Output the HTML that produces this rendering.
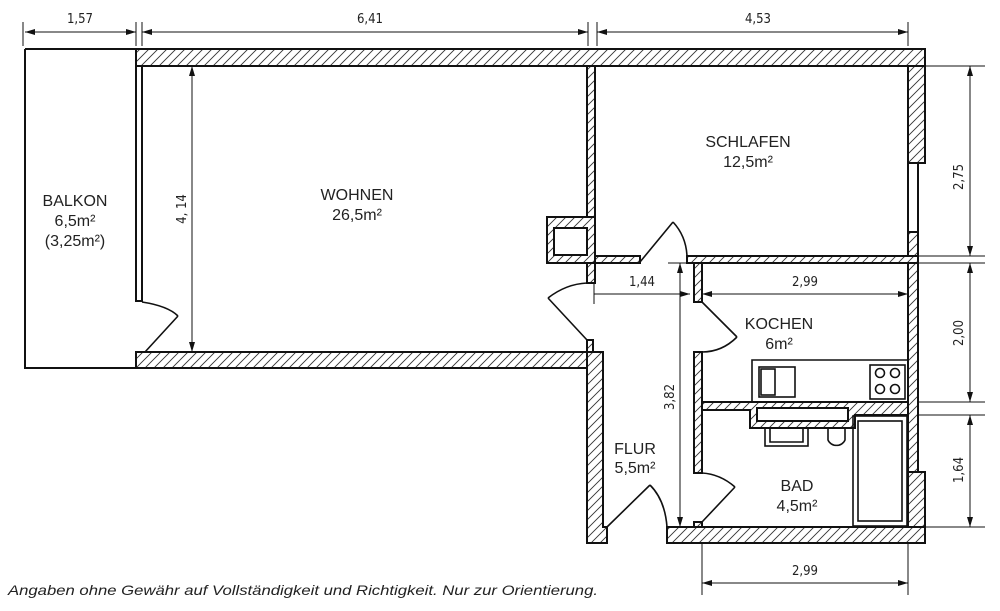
<!DOCTYPE html>
<html><head><meta charset="utf-8"><style>
html,body{margin:0;padding:0;background:#fff;}
svg{display:block;}
text{font-family:"Liberation Sans",sans-serif;fill:#222;}
.d{font-family:"DejaVu Sans Condensed","Liberation Sans",sans-serif;font-size:13px;}
</style></head><body>
<svg width="1000" height="611" viewBox="0 0 1000 611" xmlns="http://www.w3.org/2000/svg">
<defs>
<pattern id="h" patternUnits="userSpaceOnUse" width="9" height="9">
<rect width="9" height="9" fill="#fff"/>
<path d="M0,9 L9,0 M-2,2 L2,-2 M7,11 L11,7" stroke="#333" stroke-width="0.9"/>
</pattern>
<marker id="a" viewBox="0 0 10 6" refX="10" refY="3" markerWidth="10" markerHeight="6" orient="auto-start-reverse" markerUnits="userSpaceOnUse">
<path d="M0,0 L10,3 L0,6 z" fill="#111"/>
</marker>
</defs>
<g stroke="#111" stroke-width="2" fill="url(#h)">
<path d="M25,49 H136 M25,49 V368 H136" fill="none"/>
<rect x="136" y="66" width="6" height="235" fill="#fff"/>
<rect x="136" y="49" width="789" height="17"/>
<rect x="136" y="352" width="451" height="16"/>
<rect x="587" y="66" width="8" height="152"/>
<rect x="547" y="217" width="48" height="46"/>
<rect x="554" y="228" width="33" height="27" fill="#fff"/>
<rect x="587" y="263" width="8" height="20"/>
<rect x="587" y="340" width="6" height="12"/>
<path d="M587,352 H603 V527 H607 V543 H587 Z"/>
<rect x="595" y="256" width="45" height="7"/>
<rect x="687" y="256" width="231" height="7"/>
<rect x="908" y="66" width="17" height="97"/>
<rect x="908" y="163" width="10" height="69" fill="#fff"/>
<rect x="908" y="232" width="10" height="24"/>
<rect x="908" y="263" width="10" height="210"/>
<rect x="908" y="472" width="17" height="55"/>
<rect x="694" y="263" width="8" height="39"/>
<rect x="694" y="352" width="8" height="121"/>
<rect x="694" y="522" width="8" height="6"/>
<path d="M702,402 H908 V415 H855 V428 H750 V410 H702 Z"/>
<rect x="757" y="408" width="91" height="13" fill="#fff"/>
<rect x="667" y="527" width="258" height="16"/>
</g>
<g stroke="#111" stroke-width="1.6" fill="none">
<path d="M145,352 L178,316 M142,302 Q168,306 178,316"/>
<path d="M587,340 L548,298 M548,298 Q566,284 587,283"/>
<path d="M640,262 L673,222 M673,222 Q686,236 687,256"/>
<path d="M702,302 L737,337 M737,337 Q722,352 702,352"/>
<path d="M702,522 L735,487 M735,487 Q720,474 702,473"/>
<path d="M607,527 L650,485 M650,485 Q665,500 667,527"/>
<path d="M752,402 V360 H908"/>
<rect x="759" y="367" width="36" height="30"/>
<rect x="761" y="369" width="14" height="26"/>
<rect x="870" y="365" width="35" height="34"/>
<circle cx="880" cy="373" r="4.5"/><circle cx="895" cy="373" r="4.5"/>
<circle cx="880" cy="389" r="4.5"/><circle cx="895" cy="389" r="4.5"/>
<rect x="765" y="428" width="43" height="18"/>
<path d="M770,428 V442 H803 V428"/>
<path d="M828,428 V440 A9,8 0 0 0 845,440 V428"/>
<rect x="853" y="416" width="54" height="110"/>
<rect x="858" y="421" width="44" height="100"/>
</g>
<g stroke="#111" stroke-width="1" fill="none">
<path d="M23,22 V46 M136,22 V46 M142,22 V46 M588,22 V46 M597,22 V46 M908,22 V46"/>
<path d="M25,32 H136" marker-start="url(#a)" marker-end="url(#a)"/>
<path d="M142,32 H588" marker-start="url(#a)" marker-end="url(#a)"/>
<path d="M597,32 H908" marker-start="url(#a)" marker-end="url(#a)"/>
<path d="M192,66 V352" marker-start="url(#a)" marker-end="url(#a)"/>
<path d="M594,294 H690" marker-end="url(#a)"/>
<path d="M594,284 V304"/>
<path d="M702,294 H908" marker-start="url(#a)" marker-end="url(#a)"/>
<path d="M680,263 V527" marker-start="url(#a)" marker-end="url(#a)"/>
<path d="M668,263 H690 M668,527 H690"/>
<path d="M918,66 H985 M918,256 H985 M918,263 H985 M918,402 H985 M918,415 H985 M918,527 H985"/>
<path d="M970,66 V256" marker-start="url(#a)" marker-end="url(#a)"/>
<path d="M970,263 V402" marker-start="url(#a)" marker-end="url(#a)"/>
<path d="M970,415 V527" marker-start="url(#a)" marker-end="url(#a)"/>
<path d="M702,543 V595 M908,543 V595"/>
<path d="M702,583 H908" marker-start="url(#a)" marker-end="url(#a)"/>
</g>
<g class="d" text-anchor="middle">
<text x="80" y="23" class="d">1,57</text>
<text x="370" y="23" class="d">6,41</text>
<text x="758" y="23" class="d">4,53</text>
<text x="642" y="286" class="d">1,44</text>
<text x="805" y="286" class="d">2,99</text>
<text x="805" y="575" class="d">2,99</text>
<text class="d" transform="translate(186,209) rotate(-90)">4, 14</text>
<text class="d" transform="translate(674,397) rotate(-90)">3,82</text>
<text class="d" transform="translate(963,177) rotate(-90)">2,75</text>
<text class="d" transform="translate(963,333) rotate(-90)">2,00</text>
<text class="d" transform="translate(963,470) rotate(-90)">1,64</text>
</g>
<g text-anchor="middle" font-size="16">
<text x="75" y="206">BALKON</text>
<text x="75" y="226">6,5m²</text>
<text x="75" y="246">(3,25m²)</text>
<text x="357" y="200">WOHNEN</text>
<text x="357" y="220">26,5m²</text>
<text x="748" y="147">SCHLAFEN</text>
<text x="748" y="167">12,5m²</text>
<text x="779" y="329">KOCHEN</text>
<text x="779" y="349">6m²</text>
<text x="635" y="454">FLUR</text>
<text x="635" y="473">5,5m²</text>
<text x="797" y="491">BAD</text>
<text x="797" y="511">4,5m²</text>
</g>
<text x="8" y="595" font-size="14" font-style="italic" textLength="590" lengthAdjust="spacingAndGlyphs">Angaben ohne Gewähr auf Vollständigkeit und Richtigkeit. Nur zur Orientierung.</text>
</svg>
</body></html>
